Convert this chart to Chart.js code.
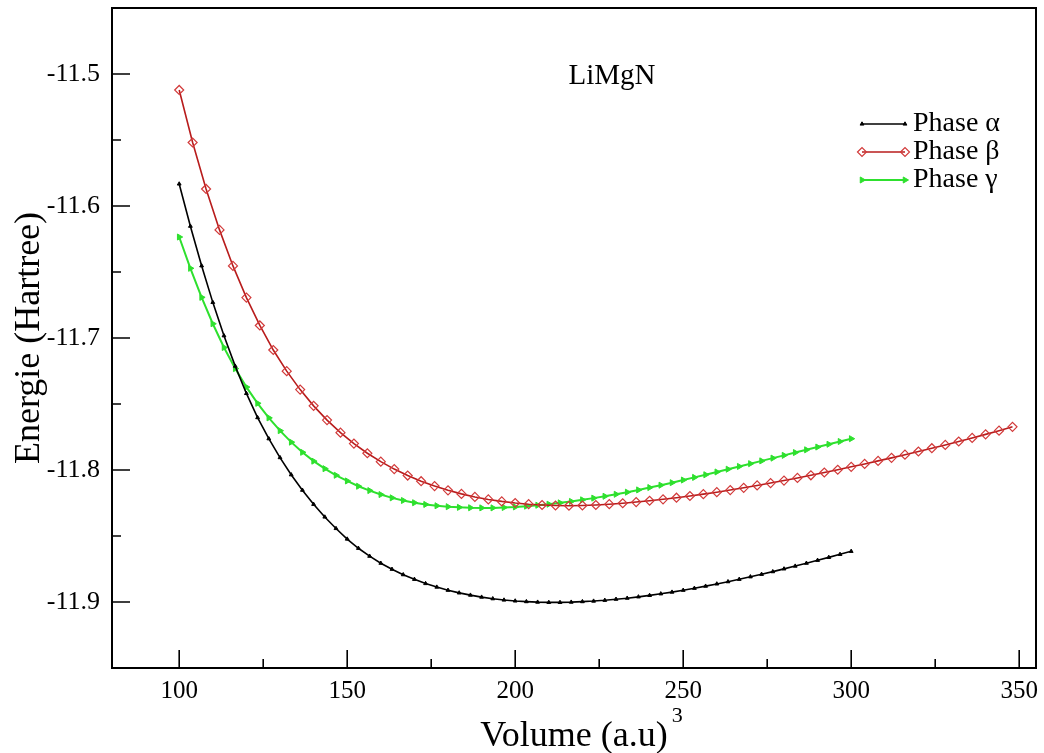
<!DOCTYPE html>
<html>
<head>
<meta charset="utf-8">
<script src="https://cdn.jsdelivr.net/npm/chart.js@4.4.1/dist/chart.umd.min.js"></script>
<style>
html, body { margin: 0; padding: 0; background: #fff; }
</style>
</head>
<body>
<canvas id="myChart" width="1044" height="753"></canvas>
<script>
// E(V) curves of LiMgN, three phases
const volAG = [100, 103.33, 106.67, 110, 113.33, 116.67, 120, 123.33, 126.67, 130,
  133.33, 136.67, 140, 143.33, 146.67, 150, 153.33, 156.67, 160, 163.33,
  166.67, 170, 173.33, 176.67, 180, 183.33, 186.67, 190, 193.33, 196.67,
  200, 203.33, 206.67, 210, 213.33, 216.67, 220, 223.33, 226.67, 230,
  233.33, 236.67, 240, 243.33, 246.67, 250, 253.33, 256.67, 260, 263.33,
  266.67, 270, 273.33, 276.67, 280, 283.33, 286.67, 290, 293.33, 296.67, 300]

const volB = [100, 104, 108, 112, 116, 120, 124, 128, 132, 136, 140, 144, 148, 152, 156,
  160, 164, 168, 172, 176, 180, 184, 188, 192, 196, 200, 204, 208, 212, 216,
  220, 224, 228, 232, 236, 240, 244, 248, 252, 256, 260, 264, 268, 272, 276,
  280, 284, 288, 292, 296, 300, 304, 308, 312, 316, 320, 324, 328, 332, 336,
  340, 344, 348]

const phaseA = [-11.5833, -11.6153, -11.6453, -11.6730, -11.6983, -11.7213, -11.7420, -11.7603, -11.7763, -11.7906,
  -11.8036, -11.8153, -11.8260, -11.8356, -11.8443, -11.8523, -11.8593, -11.8653, -11.8706, -11.8752,
  -11.8793, -11.8828, -11.8860, -11.8887, -11.8911, -11.8931, -11.8948, -11.8963, -11.8975, -11.8985,
  -11.8992, -11.8997, -11.9001, -11.9003, -11.9003, -11.9001, -11.8997, -11.8993, -11.8987, -11.8979,
  -11.8971, -11.8961, -11.8950, -11.8938, -11.8925, -11.8911, -11.8896, -11.8880, -11.8863, -11.8846,
  -11.8828, -11.8809, -11.8790, -11.8770, -11.8749, -11.8728, -11.8706, -11.8684, -11.8662, -11.8639, -11.8616]

const phaseB = [-11.5121, -11.5519, -11.5871, -11.6181, -11.6454, -11.6694, -11.6905, -11.7091, -11.7251, -11.7391,
  -11.7514, -11.7622, -11.7717, -11.7800, -11.7873, -11.7937, -11.7993, -11.8042, -11.8085, -11.8122,
  -11.8154, -11.8181, -11.8204, -11.8223, -11.8238, -11.8250, -11.8259, -11.8265, -11.8269, -11.8271,
  -11.8269, -11.8265, -11.8259, -11.8252, -11.8243, -11.8233, -11.8222, -11.8210, -11.8197, -11.8183,
  -11.8168, -11.8152, -11.8135, -11.8117, -11.8099, -11.8080, -11.8060, -11.8040, -11.8019, -11.7998,
  -11.7976, -11.7954, -11.7931, -11.7908, -11.7884, -11.7860, -11.7835, -11.7810, -11.7784, -11.7757,
  -11.7730, -11.7702, -11.7673]

const phaseG = [-11.6235, -11.6472, -11.6692, -11.6892, -11.7072, -11.7232, -11.7372, -11.7495, -11.7605, -11.7702,
  -11.7789, -11.7866, -11.7933, -11.7990, -11.8040, -11.8083, -11.8123, -11.8156, -11.8186, -11.8211,
  -11.8231, -11.8248, -11.8261, -11.8271, -11.8278, -11.8283, -11.8286, -11.8287, -11.8287, -11.8284,
  -11.8280, -11.8274, -11.8267, -11.8259, -11.8249, -11.8238, -11.8226, -11.8213, -11.8199, -11.8184,
  -11.8168, -11.8151, -11.8133, -11.8115, -11.8096, -11.8076, -11.8056, -11.8036, -11.8015, -11.7994,
  -11.7973, -11.7952, -11.7931, -11.7910, -11.7889, -11.7868, -11.7847, -11.7826, -11.7805, -11.7784, -11.7763]

const seriesNames = ['Phase α', 'Phase β', 'Phase γ']
const xTicks = [100, 150, 200, 250, 300, 350]
const xMinor = [125, 175, 225, 275, 325]
const yTicks = [-11.9, -11.8, -11.7, -11.6, -11.5]
const yMinor = [-11.85, -11.75, -11.65, -11.55]

const SERIF = '"Liberation Serif", "Times New Roman", serif'

function pts(xs, ys){
    return xs.map((x, i) => ({x: x, y: ys[i]}))
}

// grace-style box with inward ticks, legend and labels
const decor = {
    id: 'decor',
    afterDatasetsDraw(chart){
        const {ctx, chartArea: a, scales: {x, y}} = chart
        ctx.save()
        ctx.strokeStyle = '#000'
        ctx.lineWidth = 2
        ctx.strokeRect(a.left, a.top, a.right - a.left, a.bottom - a.top)

        ctx.lineWidth = 1.6
        ctx.beginPath()
        xTicks.forEach(v => { const p = x.getPixelForValue(v); ctx.moveTo(p, a.bottom); ctx.lineTo(p, a.bottom - 18) })
        xMinor.forEach(v => { const p = x.getPixelForValue(v); ctx.moveTo(p, a.bottom); ctx.lineTo(p, a.bottom - 9) })
        yTicks.forEach(v => { const p = y.getPixelForValue(v); ctx.moveTo(a.left, p); ctx.lineTo(a.left + 18, p) })
        yMinor.forEach(v => { const p = y.getPixelForValue(v); ctx.moveTo(a.left, p); ctx.lineTo(a.left + 9, p) })
        ctx.stroke()

        // legend
        chart.data.datasets.forEach((ds, i) => {
            const ly = 124 + i * 28
            ctx.strokeStyle = ds.borderColor
            ctx.lineWidth = ds.borderWidth
            ctx.beginPath(); ctx.moveTo(862, ly); ctx.lineTo(905, ly); ctx.stroke()
            ctx.fillStyle = ds.pointBackgroundColor
            ctx.strokeStyle = ds.pointBorderColor
            ctx.lineWidth = ds.pointBorderWidth
            const opt = {pointStyle: ds.pointStyle, radius: ds.pointRadius, rotation: ds.pointRotation || 0, borderWidth: ds.pointBorderWidth}
            Chart.helpers.drawPoint(ctx, opt, 862, ly)
            Chart.helpers.drawPoint(ctx, opt, 905, ly)
            ctx.fillStyle = '#000'
            ctx.font = '28px ' + SERIF
            ctx.textAlign = 'left'
            ctx.textBaseline = 'middle'
            ctx.fillText(ds.label, 913, ly)
        })

        ctx.fillStyle = '#000'
        ctx.textBaseline = 'alphabetic'
        ctx.font = '29px ' + SERIF
        ctx.textAlign = 'center'
        ctx.fillText('LiMgN', 612, 84)

        // axis titles
        ctx.font = '36px ' + SERIF
        const cx = (a.left + a.right) / 2
        const xt = 'Volume (a.u)'
        const w = ctx.measureText(xt).width
        ctx.fillText(xt, cx, 746)
        ctx.font = '22px ' + SERIF
        ctx.textAlign = 'left'
        ctx.fillText('3', cx + w / 2 + 4, 722)

        ctx.translate(30, (a.top + a.bottom) / 2)
        ctx.rotate(-Math.PI / 2)
        ctx.font = '36px ' + SERIF
        ctx.textAlign = 'center'
        ctx.textBaseline = 'middle'
        ctx.fillText('Energie (Hartree)', 0, 0)
        ctx.restore()
    }
}

const data = {
    datasets: [
        {
            label: seriesNames[0], data: pts(volAG, phaseA),
            borderColor: '#000', borderWidth: 1.6,
            pointStyle: 'triangle', pointRadius: 2.2, pointBorderWidth: 1,
            pointBackgroundColor: '#000', pointBorderColor: '#000'
        },
        {
            label: seriesNames[1], data: pts(volB, phaseB),
            borderColor: '#b81c1c', borderWidth: 1.6,
            pointStyle: 'rectRot', pointRadius: 4.5, pointBorderWidth: 1.2,
            pointBackgroundColor: 'rgba(255,255,255,0)', pointBorderColor: '#d23a3a'
        },
        {
            label: seriesNames[2], data: pts(volAG, phaseG),
            borderColor: '#2ee02e', borderWidth: 2,
            pointStyle: 'triangle', pointRotation: 90, pointRadius: 3.5, pointBorderWidth: 1,
            pointBackgroundColor: '#2ee02e', pointBorderColor: '#2ee02e'
        }
    ]
}

const config = {
    type: 'scatter',
    data: data,
    options: {
        responsive: false,
        animation: false,
        devicePixelRatio: 1,
        showLine: true,
        layout: {padding: {top: 8, right: 8, left: 0, bottom: 0}},
        plugins: {legend: {display: false}, tooltip: {enabled: false}},
        scales: {
            x: {
                type: 'linear', min: 80, max: 355,
                afterBuildTicks: s => { s.ticks = xTicks.map(v => ({value: v})) },
                afterFit: s => { s.height = 85; s.paddingLeft = 0; s.paddingRight = 0 },
                grid: {display: false, drawTicks: false},
                border: {display: false},
                ticks: {color: '#000', padding: 8, maxRotation: 0, font: {family: SERIF, size: 25}}
            },
            y: {
                type: 'linear', min: -11.95, max: -11.45,
                afterBuildTicks: s => { s.ticks = yTicks.map(v => ({value: v})) },
                afterFit: s => { s.width = 112; s.paddingTop = 0; s.paddingBottom = 0 },
                grid: {display: false, drawTicks: false},
                border: {display: false},
                ticks: {color: '#000', padding: 12, font: {family: SERIF, size: 26},
                    callback: v => v.toFixed(1)}
            }
        }
    },
    plugins: [decor]
}

const chart = new Chart(document.getElementById('myChart'), config)
</script>
</body>
</html>
